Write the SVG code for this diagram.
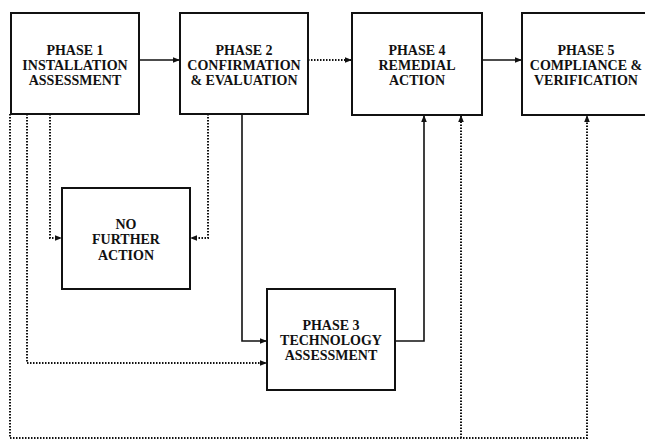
<svg xmlns="http://www.w3.org/2000/svg" width="645" height="442" viewBox="0 0 645 442">
<style>
.box{fill:#fff;stroke:#111;stroke-width:2}
.t{font-family:"Liberation Serif",serif;font-weight:bold;font-size:14px;fill:#111;text-anchor:middle}
.s{fill:none;stroke:#111;stroke-width:1.6}
.d{fill:none;stroke:#111;stroke-width:2;stroke-dasharray:1.5 1.5}
</style>
<defs>
<marker id="a" viewBox="0 0 10 10" refX="10" refY="5" markerWidth="7" markerHeight="7" markerUnits="userSpaceOnUse" orient="auto">
<path d="M0,1 L10,5 L0,9 Z" fill="#111"/>
</marker>
</defs>
<rect width="645" height="442" fill="#fff"/>
<g id="connectors">
<line class="s" x1="139" y1="60" x2="180" y2="60" marker-end="url(#a)"/>
<line class="d" x1="308" y1="60" x2="352" y2="60" marker-end="url(#a)"/>
<line class="s" x1="482" y1="60" x2="522" y2="60" marker-end="url(#a)"/>
<polyline class="d" points="50,114 50,238 62,238" marker-end="url(#a)"/>
<polyline class="d" points="208,114 208,238 190,238" marker-end="url(#a)"/>
<polyline class="d" points="27,114 27,363 267,363" marker-end="url(#a)"/>
<polyline class="s" points="242,114 242,341 267,341" marker-end="url(#a)"/>
<polyline class="s" points="395,341 424,341 424,115" marker-end="url(#a)"/>
<polyline class="d" points="10,114 10,438 587,438 587,115" marker-end="url(#a)"/>
<line class="d" x1="461" y1="438" x2="461" y2="115" marker-end="url(#a)"/>
</g>
<g id="phase1">
<rect class="box" x="11" y="13" width="128" height="101"/>
<text class="t" x="75" y="55">PHASE 1</text>
<text class="t" x="75" y="70">INSTALLATION</text>
<text class="t" x="75" y="85">ASSESSMENT</text>
</g>
<g id="phase2">
<rect class="box" x="180" y="13" width="128" height="101"/>
<text class="t" x="244" y="55">PHASE 2</text>
<text class="t" x="244" y="70">CONFIRMATION</text>
<text class="t" x="244" y="85">&amp; EVALUATION</text>
</g>
<g id="phase4">
<rect class="box" x="352" y="13" width="130" height="102"/>
<text class="t" x="417" y="55">PHASE 4</text>
<text class="t" x="417" y="70">REMEDIAL</text>
<text class="t" x="417" y="85">ACTION</text>
</g>
<g id="phase5">
<rect class="box" x="522" y="13" width="140" height="102"/>
<text class="t" x="586" y="55">PHASE 5</text>
<text class="t" x="586" y="70">COMPLIANCE &amp;</text>
<text class="t" x="586" y="85">VERIFICATION</text>
</g>
<g id="nofurther">
<rect class="box" x="62" y="188" width="128" height="101"/>
<text class="t" x="126" y="229">NO</text>
<text class="t" x="126" y="244">FURTHER</text>
<text class="t" x="126" y="260">ACTION</text>
</g>
<g id="phase3">
<rect class="box" x="267" y="289" width="128" height="101"/>
<text class="t" x="331" y="330">PHASE 3</text>
<text class="t" x="331" y="345">TECHNOLOGY</text>
<text class="t" x="331" y="360">ASSESSMENT</text>
</g>
</svg>
